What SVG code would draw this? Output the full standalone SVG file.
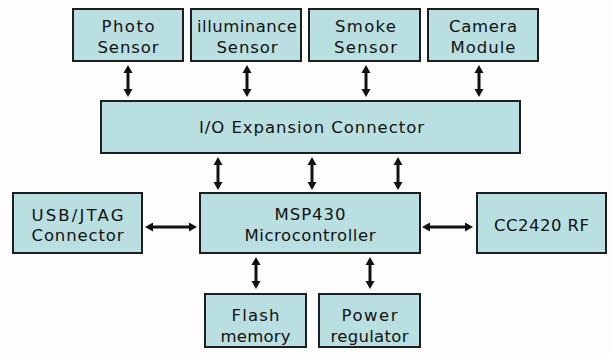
<svg xmlns="http://www.w3.org/2000/svg" width="613" height="353" viewBox="0 0 613 353">
<style>
.box{fill:#b9dfe1;stroke:#1e1e1e;stroke-width:2}
text{font-family:"DejaVu Sans","Liberation Sans",Arial,sans-serif;font-size:16.5px;fill:#111;text-anchor:middle}
.c line{stroke:#111;stroke-width:3;marker-start:url(#ah);marker-end:url(#ah)}
</style>
<defs>
<marker id="ah" markerUnits="userSpaceOnUse" markerWidth="9" markerHeight="10" refX="2" refY="5" orient="auto-start-reverse">
<path d="M0,0.5 L8,5 L0,9.5 z" fill="#111"/>
</marker>
</defs>
<rect width="613" height="353" fill="#fdfdfd"/>
<g class="c" id="connectors">
<line x1="128" y1="71" x2="128" y2="91"/>
<line x1="247" y1="71" x2="247" y2="91"/>
<line x1="366" y1="71" x2="366" y2="91"/>
<line x1="479" y1="71" x2="479" y2="91"/>
<line x1="218" y1="163" x2="218" y2="184"/>
<line x1="312" y1="163" x2="312" y2="184"/>
<line x1="398" y1="163" x2="398" y2="184"/>
<line x1="151" y1="227" x2="191" y2="227"/>
<line x1="428" y1="227" x2="467" y2="227"/>
<line x1="256" y1="263" x2="256" y2="283"/>
<line x1="370" y1="263" x2="370" y2="283"/>
</g>
<g id="photo"><rect class="box" x="73" y="9" width="110" height="52"/><text x="128" y="32" textLength="53">Photo</text><text x="128" y="53" textLength="61">Sensor</text></g>
<g id="illum"><rect class="box" x="191" y="9" width="110" height="52"/><text x="247" y="32" textLength="100">illuminance</text><text x="247" y="53" textLength="61">Sensor</text></g>
<g id="smoke"><rect class="box" x="309" y="9" width="111" height="52"/><text x="365.5" y="32" textLength="61">Smoke</text><text x="365.5" y="53" textLength="63">Sensor</text></g>
<g id="camera"><rect class="box" x="428" y="9" width="110" height="52"/><text x="483" y="32" textLength="68">Camera</text><text x="483" y="53" textLength="65">Module</text></g>
<g id="io"><rect class="box" x="101" y="101" width="419" height="52"/><text x="311.5" y="133" textLength="225">I/O Expansion Connector</text></g>
<g id="usb"><rect class="box" x="13" y="193" width="129" height="60"/><text x="77.5" y="221" textLength="92">USB/JTAG</text><text x="77.5" y="241" textLength="92">Connector</text></g>
<g id="msp"><rect class="box" x="200" y="193" width="220" height="60"/><text x="310" y="220" textLength="71">MSP430</text><text x="310" y="241" textLength="131">Microcontroller</text></g>
<g id="cc2420"><rect class="box" x="477" y="193" width="129" height="60"/><text x="541.5" y="231" textLength="95">CC2420 RF</text></g>
<g id="flash"><rect class="box" x="205" y="294" width="101" height="53"/><text x="255.5" y="321" textLength="48">Flash</text><text x="255.5" y="342" textLength="70">memory</text></g>
<g id="power"><rect class="box" x="319" y="294" width="101" height="53"/><text x="369.5" y="321" textLength="56">Power</text><text x="369.5" y="342" textLength="78">regulator</text></g>
</svg>
